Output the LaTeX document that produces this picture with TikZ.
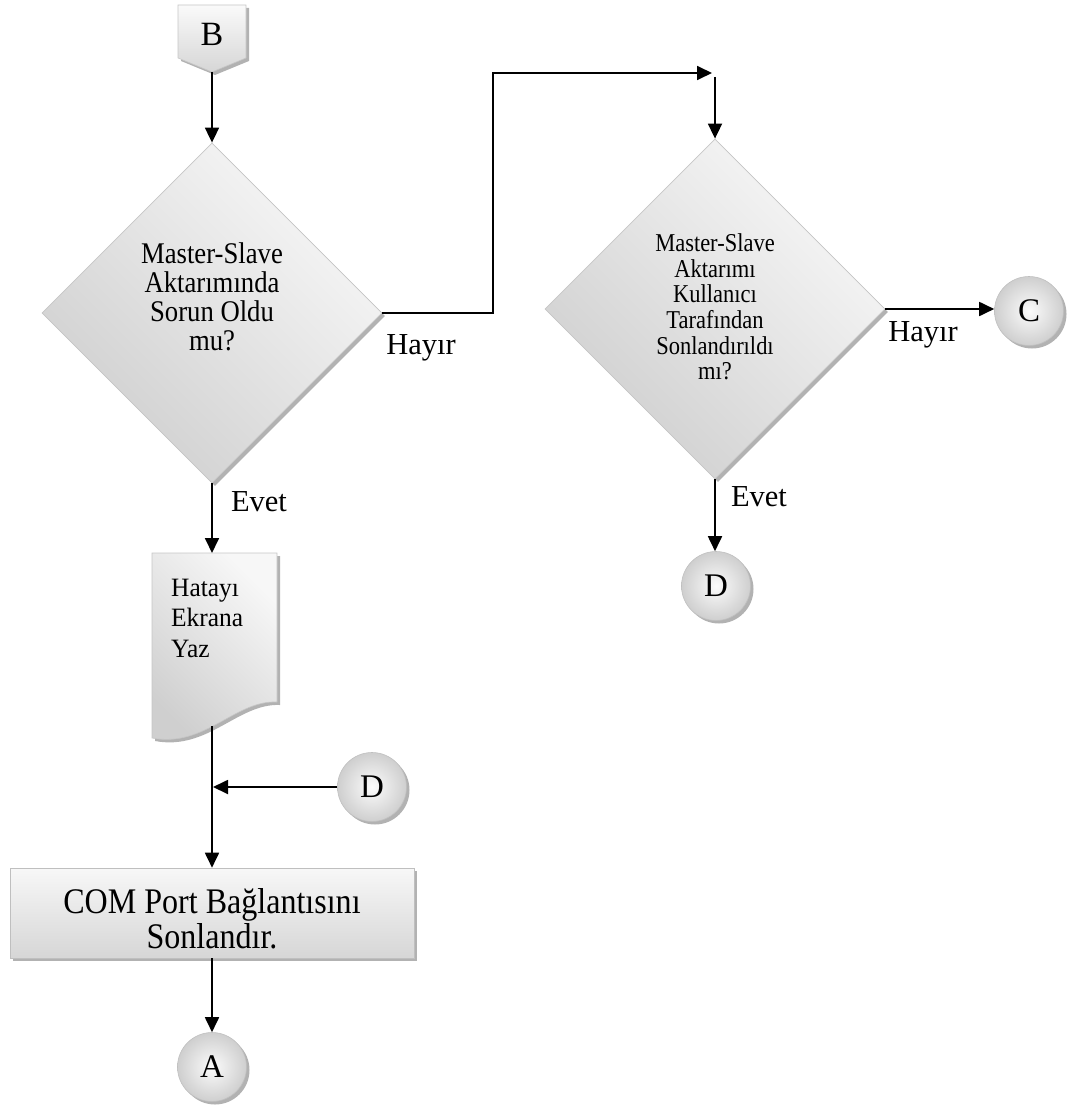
\documentclass[tikz,border=0pt]{standalone}
\usepackage{fontspec}
\setmainfont{Liberation Serif}
\newfontfamily\dOnefont[FakeStretch=0.89]{Liberation Serif}
\newfontfamily\dTwofont[FakeStretch=0.875]{Liberation Serif}
\newfontfamily\comfont[FakeStretch=0.89]{Liberation Serif}
\newfontfamily\docfont[FakeStretch=0.96]{Liberation Serif}
\usetikzlibrary{arrows.meta,shapes.geometric,shadows}

\begin{document}
\begin{tikzpicture}[x=1pt,y=-1pt,
  conn/.style={line width=1.8pt,-{Triangle[length=15pt,width=14pt]}},
  shd/.style={drop shadow={shadow xshift=3pt,shadow yshift=-3pt,fill=gray!60,opacity=1}},
  decis/.style={diamond,draw=gray!45,line width=0.8pt,minimum width=340pt,minimum height=340pt,
    inner sep=0pt,top color=gray!6,bottom color=gray!38,shading angle=-45,shd},
  conncirc/.style={circle,draw=gray!50,line width=0.6pt,minimum size=69pt,inner sep=0pt,
    inner color=gray!3,outer color=gray!38,shd,font=\fontsize{33}{35}\selectfont},
  procbox/.style={rectangle,draw=gray!50,line width=0.6pt,minimum width=404pt,minimum height=90pt,
    top color=gray!6,bottom color=gray!32,shd},
  lbl/.style={font=\fontsize{30.5}{34}\selectfont,inner sep=0pt},
]
\useasboundingbox (0,0) rectangle (1067,1110);

% B off-page connector
\path[draw=gray!45,line width=0.6pt,top color=gray!4,bottom color=gray!32,shd]
  (178,5) -- (246,5) -- (246,58) -- (212,72) -- (178,58) -- cycle;
\node[font=\fontsize{34}{36}\selectfont,inner sep=0pt] (B) at (212,34) {B};
\coordinate (Bt) at (212,72);

% decisions
\node[decis] (d1) at (212,313) {};
\node[align=center,font=\dOnefont\fontsize{30}{29}\selectfont,inner sep=0pt] (d1t) at (212,297)
  {Master-Slave\\Aktarımında\\Sorun Oldu\\mu?};
\node[decis] (d2) at (715,309) {};
\node[align=center,font=\dTwofont\fontsize{25.7}{25.6}\selectfont,inner sep=0pt] (d2t) at (715,307)
  {Master-Slave\\Aktarımı\\Kullanıcı\\Tarafından\\Sonlandırıldı\\mı?};

% document shape
\path[draw=gray!45,line width=0.6pt,top color=gray!6,bottom color=gray!38,shading angle=-45,shd]
  (152,553) -- (277,553) -- (277,702) .. controls (235,700) and (205,748) .. (152,738) -- cycle;
\coordinate (docT) at (212,553);
\coordinate (docB) at (212,726);
\node[align=left,anchor=west,font=\docfont\fontsize{26.5}{30.5}\selectfont,inner sep=0pt] (doc) at (171,618)
  {Hatayı\\Ekrana\\Yaz};

% process box
\node[procbox] (com) at (212,913) {};
\node[align=center,font=\comfont\fontsize{36}{35}\selectfont,inner sep=0pt] (comt) at (212,919)
  {COM Port Bağlantısını\\Sonlandır.};

% connector circles
\node[conncirc] (C) at (1029,311) {C};
\node[conncirc] (D1) at (716,586) {D};
\node[conncirc] (D2) at (372,787) {D};
\node[conncirc] (A) at (212,1067) {A};

% connectors
\draw[conn] (Bt) -- (d1.north);
\coordinate (k0) at (493,313);
\coordinate (k1) at (712,73);
\coordinate (k2) at (715,77);
\draw[conn] (d1.east) -- (k0) |- (k1);
\draw[conn] (k2) -- (d2.north);
\draw[conn] (d2.east) -- (d2.east -| C.west);
\draw[conn] (d2.south) -- (d2.south |- D1.north);
\draw[conn] (d1.south) -- (docT);
\draw[conn] (docB) -- (com.north);
\coordinate (m) at (213,787);
\draw[conn] (D2.west) -- (m);
\draw[conn] (com.south) -- (A.north);

% labels
\node[lbl] (h1) at (421,348) {Hayır};
\node[lbl] (h2) at (923,335) {Hayır};
\node[lbl] (e1) at (259,502) {Evet};
\node[lbl] (e2) at (759,497) {Evet};
\end{tikzpicture}
\end{document}
